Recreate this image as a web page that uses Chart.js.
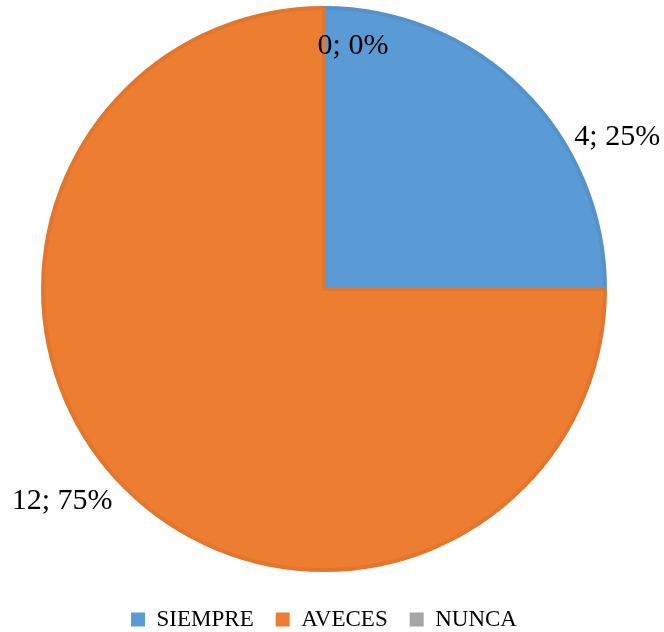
<!DOCTYPE html>
<html>
<head>
<meta charset="utf-8">
<script src="https://cdn.jsdelivr.net/npm/chart.js@4"></script>
<style>
    html, body { margin: 0; padding: 0; background: #fff; }
    .chart-container { width: 664px; height: 632px; }
</style>
</head>
<body>
<div class="chart-container"><canvas id="chart"></canvas></div>
<script>
const categories = ['SIEMPRE', 'AVECES', 'NUNCA'];
const counts = [4, 12, 0];
const percents = [25, 75, 0];

const fills = ['#5B9BD5', '#ED7D31', '#A5A5A5'];
const edges = ['#5592CC', '#E2762D', '#FFFFFF'];

const serif = "'Times New Roman', 'Liberation Serif', serif";

// where each label sits: fraction along the slice, radius factor, extra angle (deg)
const labelSpots = [
    { f: 0.696, k: 1.175, da: 0 },
    { f: 0.522, k: 1.2, da: 0 },
    { f: 0, k: 0.871, da: 6.8 },
];

const sliceLabels = {
    id: 'sliceLabels',
    afterDatasetsDraw(chart) {
        const ctx = chart.ctx;
        const meta = chart.getDatasetMeta(0);
        ctx.save();
        ctx.font = '30px ' + serif;
        ctx.fillStyle = '#000';
        ctx.textAlign = 'center';
        ctx.textBaseline = 'middle';
        meta.data.forEach((arc, i) => {
            const { x, y, startAngle, endAngle, outerRadius } = arc.getProps(['x', 'y', 'startAngle', 'endAngle', 'outerRadius'], true);
            const spot = labelSpots[i];
            const angle = startAngle + spot.f * (endAngle - startAngle) + spot.da * Math.PI / 180;
            const lx = x + Math.cos(angle) * outerRadius * spot.k;
            const ly = y + Math.sin(angle) * outerRadius * spot.k;
            ctx.fillText(counts[i] + '; ' + percents[i] + '%', lx, ly);
        });
        ctx.restore();
    }
};

// give the legend a bit more room and push its row down toward the bottom edge
const legendShift = {
    id: 'legendShift',
    beforeInit(chart) {
        const fit = chart.legend.fit;
        chart.legend.fit = function () {
            fit.bind(chart.legend)();
            this.height += 5;
        };
    },
    afterLayout(chart) {
        chart.legend.top += 14;
        chart.legend.bottom += 14;
    }
};

new Chart(document.getElementById('chart'), {
    type: 'pie',
    data: {
        labels: categories,
        datasets: [{
            data: counts,
            backgroundColor: fills,
            borderColor: edges,
            borderWidth: [4, 4, 2],
        }],
    },
    options: {
        responsive: true,
        maintainAspectRatio: false,
        animation: false,
        layout: {
            padding: { top: 6, left: 0, right: 16, bottom: 0 },
        },
        plugins: {
            tooltip: { enabled: false },
            legend: {
                position: 'bottom',
                labels: {
                    font: { family: serif, size: 23 },
                    color: '#000',
                    boxWidth: 14,
                    boxHeight: 14,
                    padding: 22,
                    generateLabels: chart => {
                        const base = Chart.overrides.pie.plugins.legend.labels.generateLabels(chart);
                        return base.map(item => ({ ...item, lineWidth: 0 }));
                    },
                },
            },
        },
    },
    plugins: [sliceLabels, legendShift],
});
</script>
</body>
</html>
